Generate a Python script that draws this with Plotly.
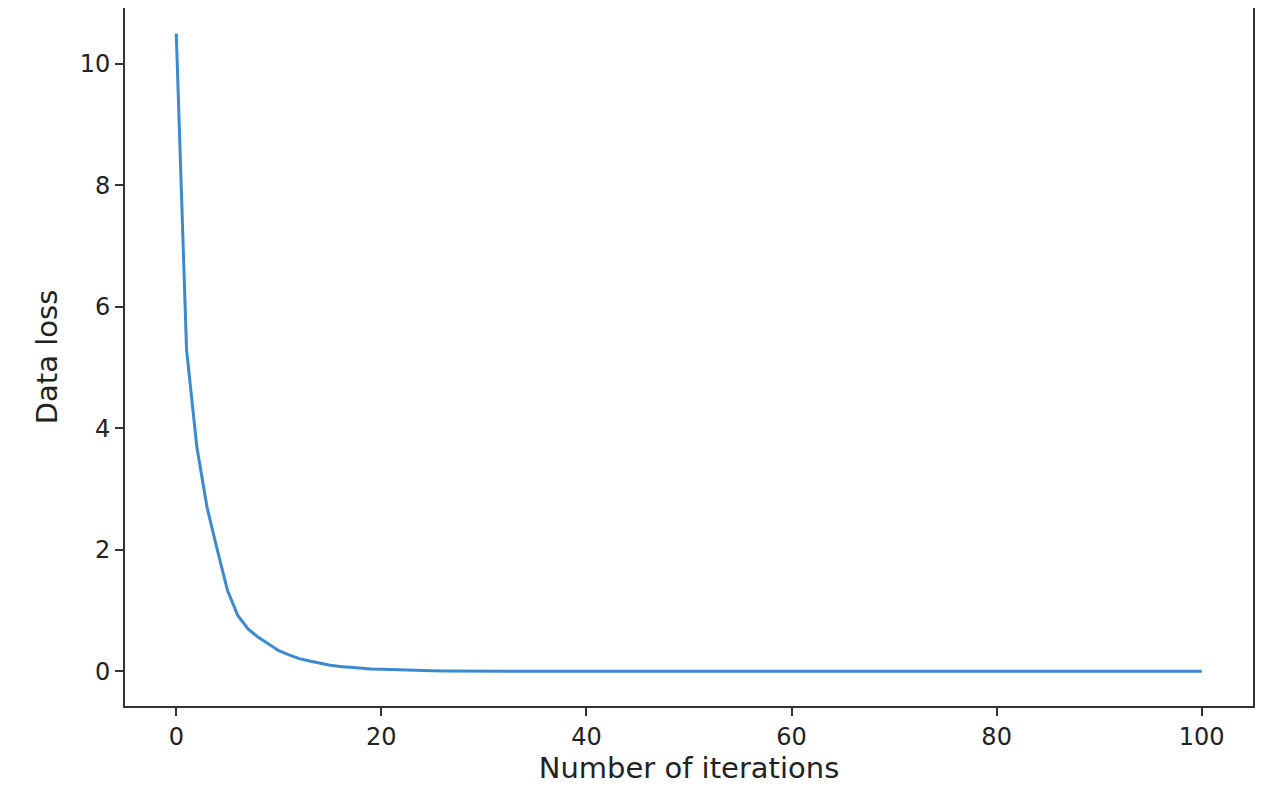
import plotly.graph_objects as go

iterations = list(range(0, 101))
early_loss = [10.5, 5.3, 3.7, 2.7, 2.0, 1.33, 0.92, 0.7, 0.56, 0.45, 0.34, 0.27, 0.21, 0.17, 0.13, 0.10,
              0.08, 0.065, 0.05, 0.04, 0.035, 0.028, 0.022, 0.017, 0.013, 0.01, 0.008, 0.006, 0.005, 0.004]
tail_loss = [0.003] * 10 + [0.002] * 20 + [0.001] * 41
loss = early_loss + tail_loss

fig = go.Figure(go.Scatter(x=iterations, y=loss, mode="lines",
                           line=dict(color="#3b8ad0", width=3)))
fig.update_layout(
    width=1270, height=802, paper_bgcolor="white", plot_bgcolor="white",
    margin=dict(l=117, r=25, t=0, b=104, autoexpand=False), showlegend=False,
    font=dict(family="DejaVu Sans", size=24, color="#222"),
)
axis_common = dict(showgrid=False, zeroline=False, showline=True, linecolor="#333",
                   linewidth=2, mirror=True, ticks="outside", ticklen=8, tickwidth=2,
                   tickcolor="#333", automargin=False)
fig.update_xaxes(range=[-5, 105], tickvals=[0, 20, 40, 60, 80, 100],
                 title=dict(text="Number of iterations", standoff=8), **axis_common)
fig.update_yaxes(range=[-0.57, 10.92], tickvals=[0, 2, 4, 6, 8, 10],
                 title=dict(text="Data loss", standoff=14), **axis_common)
fig.write_html("out.html")
